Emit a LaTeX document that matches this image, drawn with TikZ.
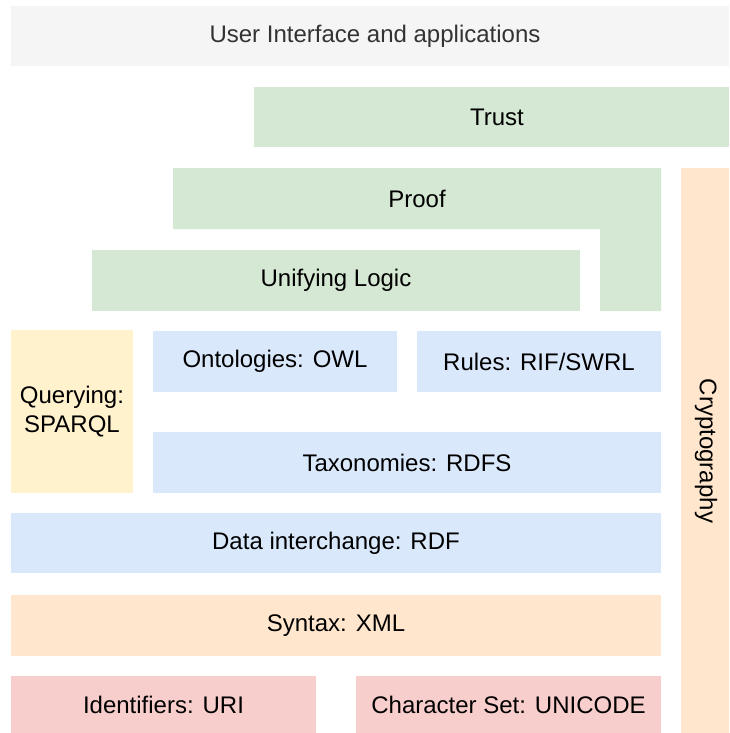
\documentclass[tikz,border=0pt]{standalone}
\usepackage{fontspec}
\setmainfont{Liberation Sans}
\definecolor{uigray}{HTML}{F5F5F5}
\definecolor{dgreen}{HTML}{D5E8D4}
\definecolor{dblue}{HTML}{DAE8FC}
\definecolor{dorange}{HTML}{FFE6CC}
\definecolor{dyellow}{HTML}{FFF2CC}
\definecolor{dred}{HTML}{F8CECC}
\definecolor{uitext}{HTML}{333333}
\tikzset{
  layer/.style={draw=none, inner sep=0pt, font=\fontsize{24}{29}\selectfont, align=center},
}
\begin{document}
\begin{tikzpicture}
\useasboundingbox (0,0) rectangle (729pt,-733pt);
% User interface
\fill[uigray] (11pt,-6pt) rectangle (729pt,-66pt);
\node[layer, text=uitext] (ui) at (375pt,-36pt) {User Interface and applications};
% Trust
\fill[dgreen] (254pt,-87pt) rectangle (729pt,-147pt);
\node[layer] (trust) at (497pt,-117pt) {Trust};
% Proof (L-shape)
\fill[dgreen] (173pt,-168pt) -- (661pt,-168pt) -- (661pt,-311pt) -- (600pt,-311pt) -- (600pt,-229pt) -- (173pt,-229pt) -- cycle;
\node[layer] (proof) at (417pt,-198.5pt) {Proof};
% Unifying logic
\fill[dgreen] (92pt,-250pt) rectangle (580pt,-311pt);
\node[layer] (logic) at (336pt,-280.5pt) {Unifying Logic};
% Cryptography
\fill[dorange] (681pt,-168pt) rectangle (729pt,-733pt);
\node[layer, rotate=-90] (crypto) at (706pt,-451pt) {Cryptography};
% Querying
\fill[dyellow] (11pt,-330pt) rectangle (133pt,-493pt);
\node[layer] (query) at (72pt,-411.5pt) {Querying:\\SPARQL};
% Ontologies
\fill[dblue] (153pt,-331pt) rectangle (397pt,-392pt);
\node[layer] (onto) at (275pt,-361.5pt) {Ontologies: OWL};
% Rules
\fill[dblue] (417pt,-331pt) rectangle (661pt,-392pt);
\node[layer] (rules) at (539pt,-361.5pt) {Rules: RIF/SWRL};
% Taxonomies
\fill[dblue] (153pt,-432pt) rectangle (661pt,-493pt);
\node[layer] (rdfs) at (407pt,-462.5pt) {Taxonomies: RDFS};
% Data interchange
\fill[dblue] (11pt,-513pt) rectangle (661pt,-573pt);
\node[layer] (rdf) at (336pt,-543pt) {Data interchange: RDF};
% Syntax
\fill[dorange] (11pt,-595pt) rectangle (661pt,-656pt);
\node[layer] (xml) at (336pt,-625.5pt) {Syntax: XML};
% Identifiers
\fill[dred] (11pt,-676pt) rectangle (316pt,-733pt);
\node[layer] (uri) at (163.5pt,-704.5pt) {Identifiers: URI};
% Character set
\fill[dred] (356pt,-676pt) rectangle (661pt,-733pt);
\node[layer] (unicode) at (508.5pt,-704.5pt) {Character Set: UNICODE};
\end{tikzpicture}
\end{document}
